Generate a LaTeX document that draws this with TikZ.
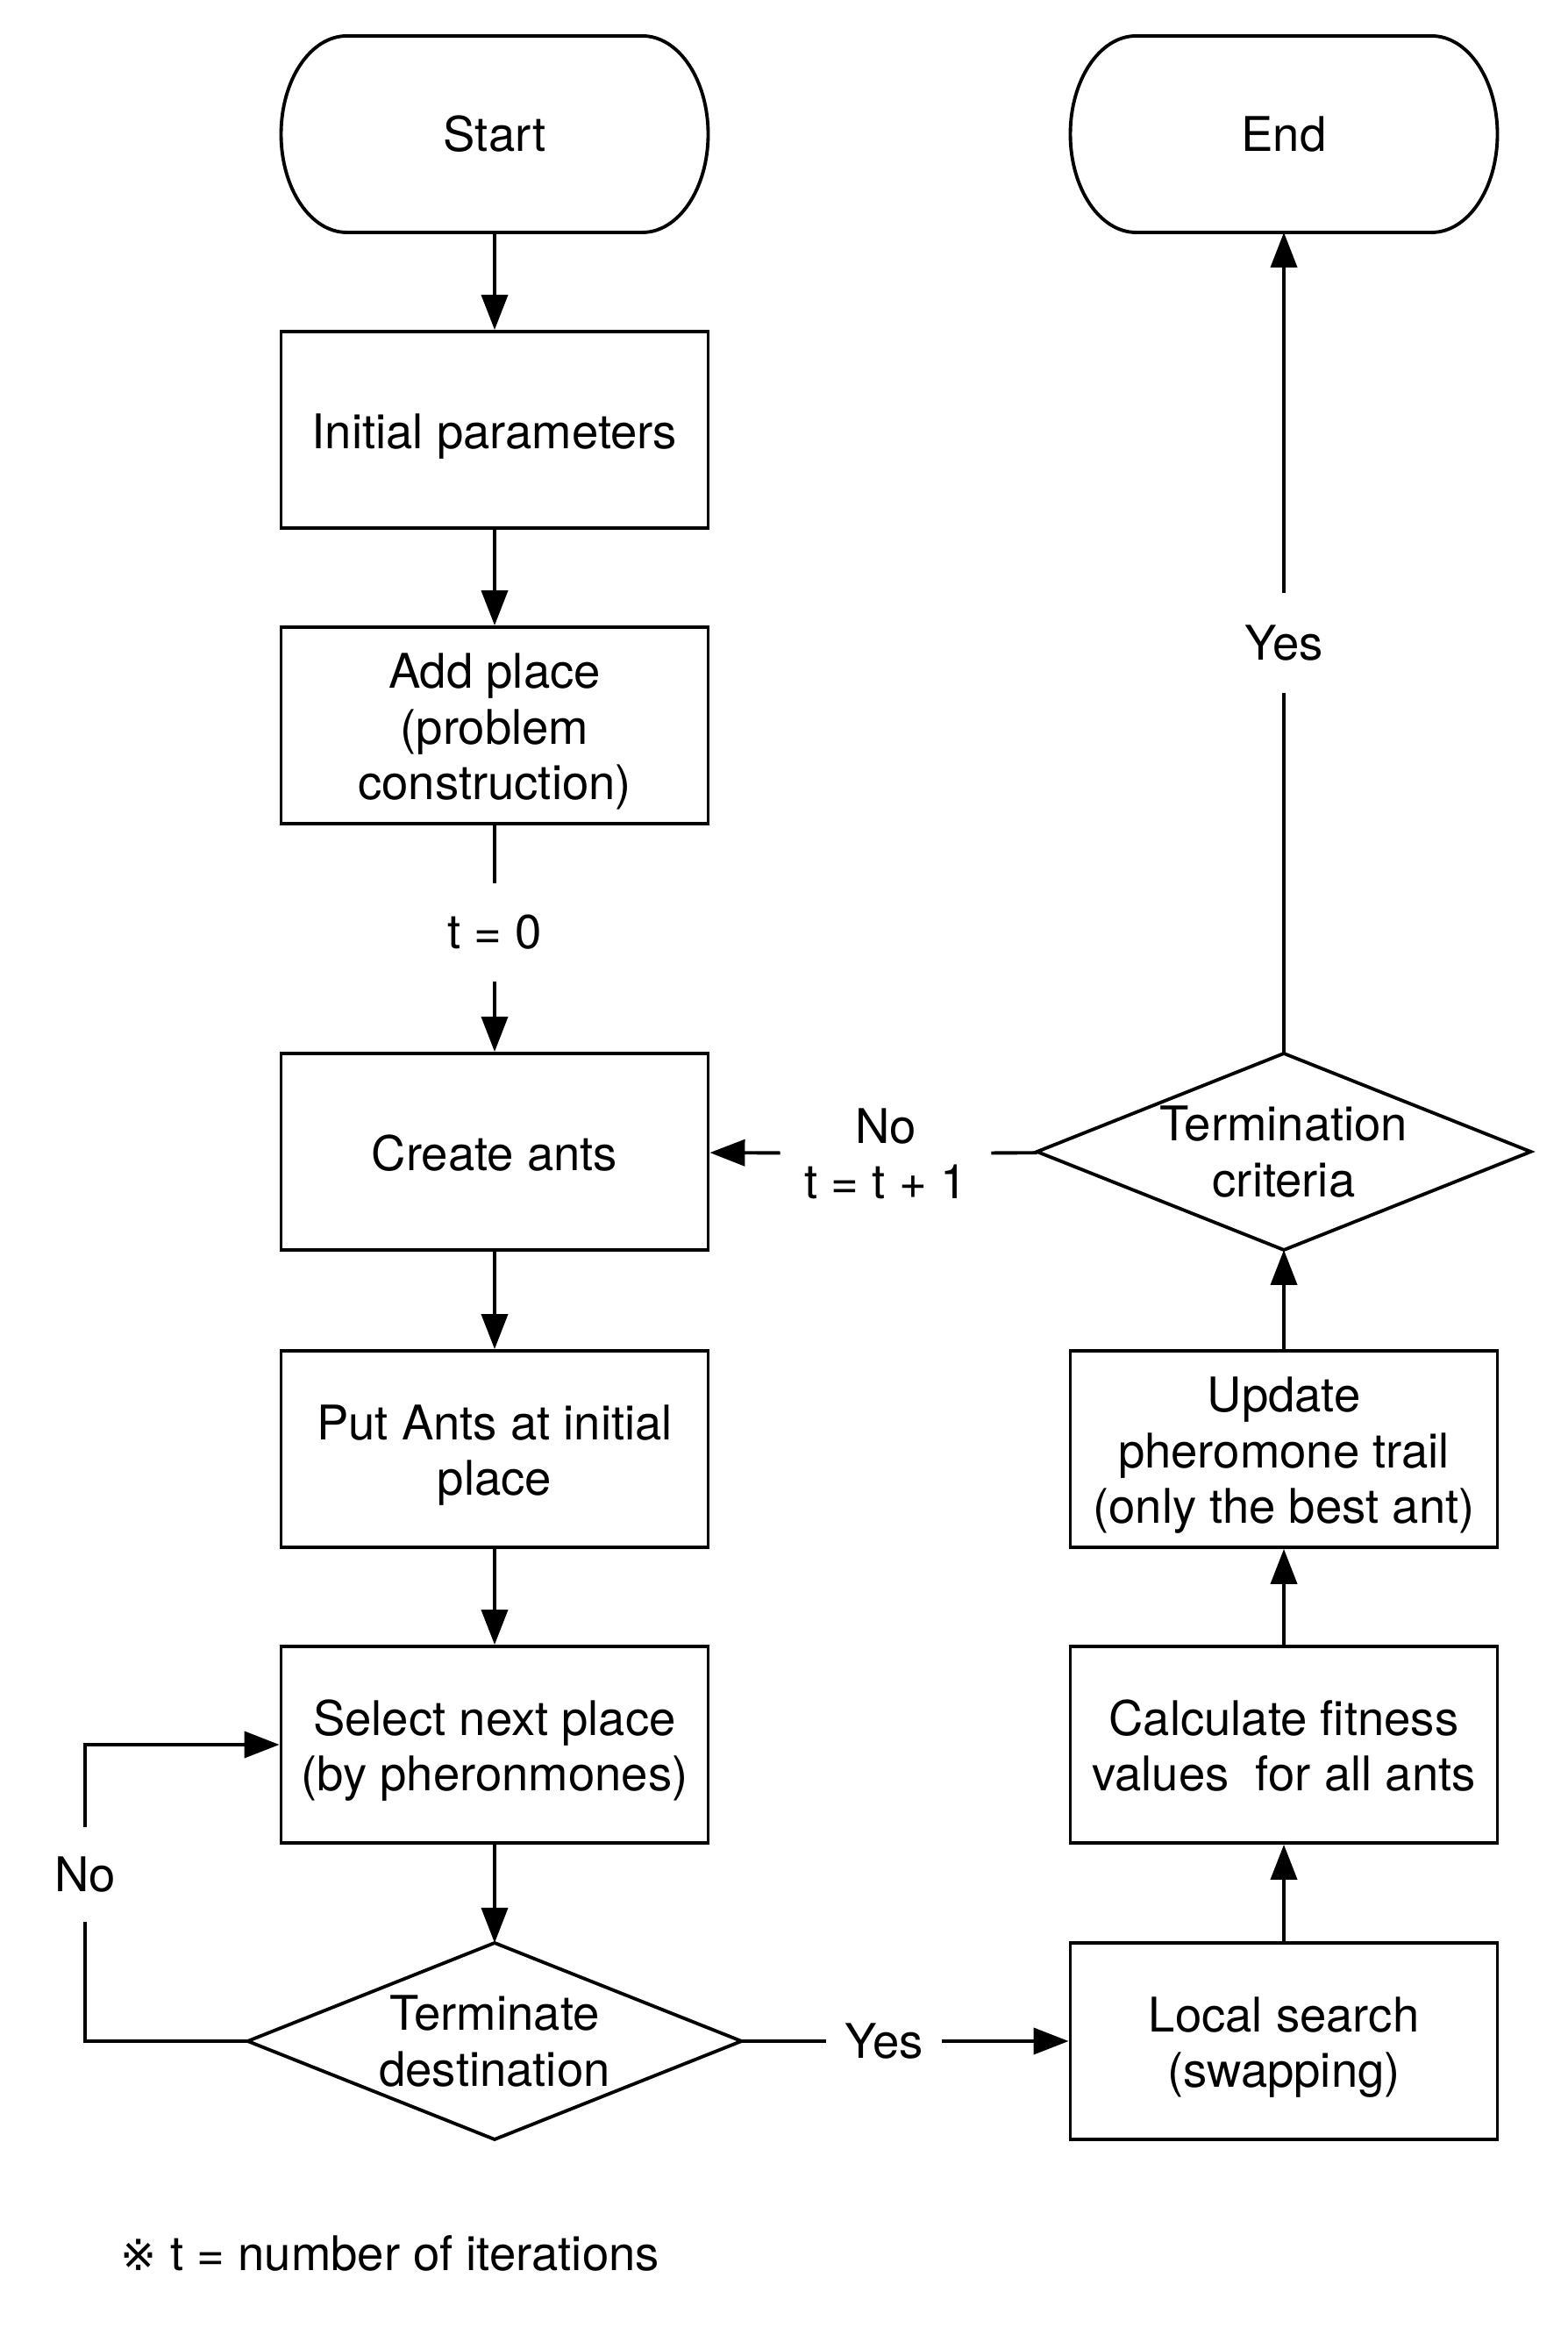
\documentclass[tikz,border=0pt]{standalone}
\usepackage{fontspec}
\setmainfont{TeX Gyre Heros}
\newfontfamily\refmark{DejaVu Sans}
\usetikzlibrary{arrows.meta,calc}
\newcommand{\stadium}[1]{%
  \draw ($(#1.north west)+(0.75,0)$) -- ($(#1.north east)+(-0.75,0)$)
    arc[start angle=90,end angle=-90,x radius=0.75,y radius=1.12]
    -- ($(#1.south west)+(0.75,0)$)
    arc[start angle=270,end angle=90,x radius=0.75,y radius=1.12] -- cycle;}
\newcommand{\rhombus}[1]{%
  \draw (#1.north) -- (#1.east) -- (#1.south) -- (#1.west) -- cycle;}
\newcommand{\toprow}{\rule{0pt}{15.5pt}}

\begin{document}
\begin{tikzpicture}[>={Triangle[length=4mm,width=3mm]},line width=1.1pt,
  font=\fontsize{15.5}{18}\selectfont,
  terminal/.style={minimum width=4.87cm,minimum height=2.24cm,inner sep=0pt,outer sep=0pt},
  box/.style={draw,minimum width=4.87cm,minimum height=2.24cm,align=center,inner sep=0pt,
    execute at begin node={\toprow},
    execute at end node={\rule[-3.5pt]{0pt}{3.5pt}}},
  decision/.style={minimum width=5.63cm,minimum height=2.24cm,align=center,inner sep=0pt,outer sep=0pt},
  lbl/.style={align=center,inner sep=0pt}]
\useasboundingbox (0,0) rectangle (17.87,26.62);

% left column
\node[terminal] (start) at (5.64,25.09) {Start};
\stadium{start}
\node[box] (init) at (5.64,21.72) {Initial parameters};
\node[box] (addplace) at (5.64,18.35) {\toprow Add place\\(problem\\construction)};
\node[box] (create) at (5.64,13.49) {Create ants};
\node[box] (putants) at (5.64,10.10) {\toprow Put Ants at initial\\place};
\node[box] (select) at (5.64,6.73) {\toprow Select next place\\(by pheronmones)};
\node[decision] (termdest) at (5.64,3.35) {Terminate\\destination};
\rhombus{termdest}

% right column
\node[box] (local) at (14.64,3.35) {\toprow Local search\\(swapping)};
\node[box] (fitness) at (14.64,6.73) {\toprow Calculate fitness\\values\ \ for all ants};
\node[box] (update) at (14.64,10.10) {\toprow Update\\pheromone trail\\(only the best ant)};
\node[decision] (termcrit) at (14.64,13.49) {Termination\\criteria};
\rhombus{termcrit}
\node[terminal] (finish) at (14.64,25.09) {End};
\stadium{finish}

% labels on connectors
\node[lbl,minimum height=1.09cm] (tzero) at (5.64,15.99) {t = 0};
\node[lbl,minimum height=1.10cm] (yestop) at (14.64,19.29) {Yes};
\node[lbl,minimum width=2.37cm] (nonext) at (10.10,13.47) {No\\t = t + 1};
\node[lbl,minimum width=1.29cm] (yesbot) at (10.08,3.35) {Yes};
\node[lbl,minimum height=1.05cm] (noback) at (0.97,5.25) {No};

\draw[->] (start) -- (init);
\draw[->] (init) -- (addplace);
\draw (addplace) -- (tzero);
\draw[->] (tzero) -- (create);
\draw[->] (create) -- (putants);
\draw[->] (putants) -- (select);
\draw[->] (select) -- (termdest);
\draw (termdest.west) -- (termdest.west -| noback) -- (noback);
\draw[->] (noback) |- (select.west);
\draw (termdest) -- (yesbot);
\draw[->] (yesbot) -- (local);
\draw[->] (local) -- (fitness);
\draw[->] (fitness) -- (update);
\draw[->] (update) -- (termcrit);
\draw (termcrit) -- (nonext);
\draw[->] (nonext) -- (create);
\draw (termcrit) -- (yestop);
\draw[->] (yestop) -- (finish);

\node[anchor=west,inner sep=0pt] (note) at (1.36,0.93) {{\refmark\fontsize{14}{18}\selectfont ※} t = number of iterations};
\end{tikzpicture}
\end{document}
